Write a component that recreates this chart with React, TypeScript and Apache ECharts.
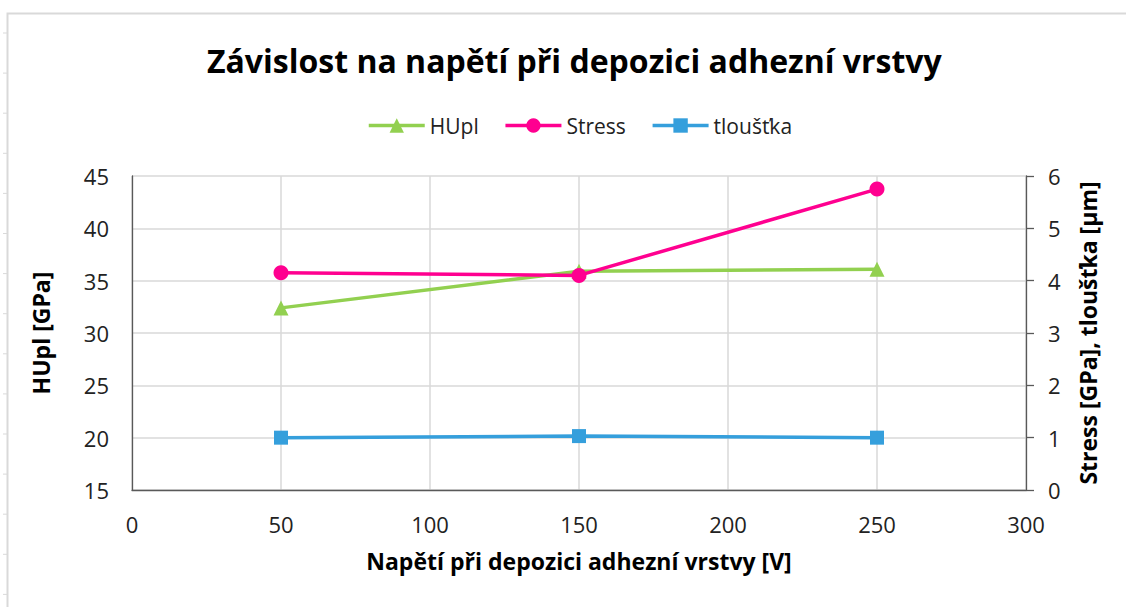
import React, { useEffect, useRef } from "react";
import * as echarts from "echarts";

const voltages = [50, 150, 250];
const huplValues = [32.4, 35.9, 36.1];
const stressValues = [4.15, 4.1, 5.75];
const thicknessValues = [1.0, 1.03, 1.0];

const FONT = "'Open Sans', 'Noto Sans', sans-serif";

export default function App() {
  const ref = useRef<HTMLDivElement>(null);
  useEffect(() => {
    if (!ref.current) return;
    const chart = echarts.init(ref.current, undefined, { renderer: "svg" });
    const pair = (ys: number[]) => voltages.map((x, i) => [x, ys[i]]);
    const rulerTicks: any[] = [];
    for (let y = 33; y < 607; y += 40.1) {
      rulerTicks.push({
        type: "line",
        shape: { x1: 3, y1: y, x2: 7, y2: y },
        style: { stroke: "#d9d9d9", lineWidth: 1 },
        silent: true,
      });
    }
    chart.setOption({
      animation: false,
      backgroundColor: "#ffffff",
      textStyle: { fontFamily: FONT },
      title: {
        text: "Závislost na napětí při depozici adhezní vrstvy",
        left: 202,
        top: 39,
        textStyle: { fontFamily: FONT, fontSize: 32, fontWeight: "bold", color: "#000" },
      },
      legend: {
        top: 110,
        left: 362,
        itemWidth: 56,
        itemHeight: 18,
        itemGap: 25,
        lineStyle: { width: 3.5 },
        textStyle: { fontFamily: FONT, fontSize: 21, color: "#222" },
        data: ["HUpl", "Stress", "tloušťka"],
      },
      graphic: [
        {
          type: "polyline",
          shape: { points: [[7.5, 607], [7.5, 13.5], [1126, 13.5]] },
          style: { stroke: "#d9d9d9", lineWidth: 2, fill: "none" },
          silent: true,
        },
        ...rulerTicks,
      ],
      grid: { left: 132, right: 100, top: 176, bottom: 117 },
      xAxis: {
        type: "value",
        min: 0,
        max: 300,
        interval: 50,
        name: "Napětí při depozici adhezní vrstvy [V]",
        nameLocation: "middle",
        nameGap: 59,
        nameTextStyle: { fontFamily: FONT, fontSize: 23, fontWeight: "bold", color: "#000" },
        axisLine: { show: true, onZero: false, lineStyle: { color: "#595959", width: 1.3 } },
        axisTick: { show: false },
        axisLabel: { fontFamily: FONT, fontSize: 22, color: "#222", margin: 23 },
        splitLine: { show: true, lineStyle: { color: "#d9d9d9", width: 1.5 } },
      },
      yAxis: [
        {
          type: "value",
          min: 15,
          max: 45,
          interval: 5,
          name: "HUpl [GPa]",
          nameLocation: "middle",
          nameGap: 80,
          nameRotate: 90,
          nameTextStyle: { fontFamily: FONT, fontSize: 23, fontWeight: "bold", color: "#000" },
          axisLine: { show: true, lineStyle: { color: "#595959", width: 1.3 } },
          axisTick: { show: false },
          axisLabel: { fontFamily: FONT, fontSize: 22, color: "#222", margin: 23 },
          splitLine: { show: true, lineStyle: { color: "#d9d9d9", width: 1.5 } },
        },
        {
          type: "value",
          min: 0,
          max: 6,
          interval: 1,
          position: "right",
          name: "Stress [GPa], tloušťka [µm]",
          nameLocation: "middle",
          nameGap: 50,
          nameRotate: 90,
          nameTextStyle: { fontFamily: FONT, fontSize: 23, fontWeight: "bold", color: "#000" },
          axisLine: { show: true, lineStyle: { color: "#595959", width: 1.3 } },
          axisTick: { show: true, length: 8, lineStyle: { color: "#595959", width: 1.3 } },
          axisLabel: { fontFamily: FONT, fontSize: 22, color: "#222", margin: 22 },
          splitLine: { show: false },
        },
      ],
      series: [
        {
          name: "HUpl",
          type: "line",
          yAxisIndex: 0,
          data: pair(huplValues),
          symbol: "triangle",
          symbolSize: 15,
          lineStyle: { color: "#92d050", width: 3.5 },
          itemStyle: { color: "#92d050" },
        },
        {
          name: "Stress",
          type: "line",
          yAxisIndex: 1,
          data: pair(stressValues),
          symbol: "circle",
          symbolSize: 15,
          lineStyle: { color: "#ff0090", width: 3.5 },
          itemStyle: { color: "#ff0090" },
        },
        {
          name: "tloušťka",
          type: "line",
          yAxisIndex: 1,
          data: pair(thicknessValues),
          symbol: "rect",
          symbolSize: 14,
          lineStyle: { color: "#359fdc", width: 3.5 },
          itemStyle: { color: "#359fdc" },
        },
      ],
    });
    return () => chart.dispose();
  }, []);
  return <div ref={ref} style={{ width: 1126, height: 607, position: "absolute", left: 0, top: 0 }} />;
}
